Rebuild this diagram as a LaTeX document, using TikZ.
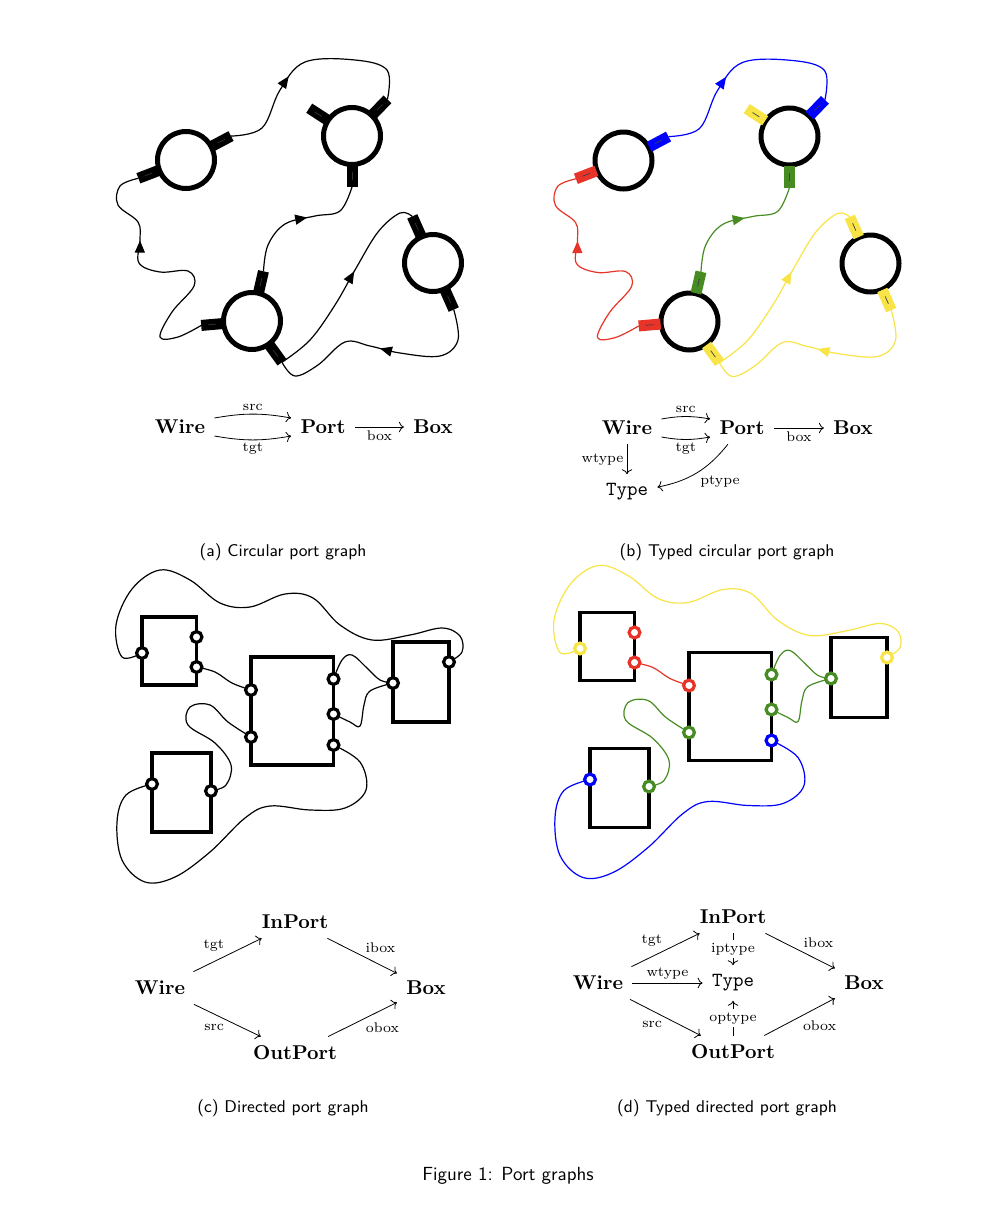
\documentclass[tikz,border=0pt]{standalone}
\usetikzlibrary{arrows.meta,decorations.markings}
\definecolor{cred}{RGB}{232,52,40}
\definecolor{cgreen}{RGB}{70,140,35}
\definecolor{cyellow}{RGB}{248,228,70}
\definecolor{cblue}{RGB}{0,0,255}

% port on a circle: #1 centre, #2 angle, #3 name of tip, #4 fill style
\newcommand\cgport[4]{%
  \begin{scope}[shift={(#1)},rotate=#2]
    \fill[#4] (29,-5.5) rectangle (51,5.5);
    \draw[pmark] (36,0) -- (44,0);
    \coordinate (#3) at (51,0);
  \end{scope}}

\newcommand\circgraph[1]{%
  \node[cnode] (#1c1) at (186,160) {};
  \node[cnode] (#1c2) at (352,136) {};
  \node[cnode] (#1c3) at (252,321) {};
  \node[cnode] (#1c4) at (433,263) {};
  \cgport{186,160}{28}{#1p1}{pblue}
  \cgport{186,160}{201}{#1p2}{pred}
  \cgport{352,136}{147}{#1p3}{pyellow}
  \cgport{352,136}{46}{#1p4}{pblue}
  \cgport{352,136}{270}{#1p5}{pgreen}
  \cgport{252,321}{77}{#1p6}{pgreen}
  \cgport{252,321}{185}{#1p7}{pred}
  \cgport{252,321}{306}{#1p8}{pyellow}
  \cgport{433,263}{114}{#1p9}{pyellow}
  \cgport{433,263}{-66}{#1p10}{pyellow}
  \draw[wire,wblue,midarrow=0.4] plot[smooth,tension=0.6] coordinates {(#1p1) (262,128) (280,90) (305,62) (355,60) (387,70) (#1p4)};
  \draw[wire,wgreen,midarrow=0.56] plot[smooth,tension=0.6] coordinates {(#1p6) (268,245) (285,224) (315,216) (340,211) (#1p5)};
  \draw[wire,wred,midarrow=0.7] plot[smooth,tension=0.6] coordinates {(#1p7) (178,337) (160,337) (172,312) (194,286) (188,271) (160,272) (139,263) (140,240) (138,222) (118,205) (120,186) (#1p2)};
  \draw[wire,wyellow,midarrow=0.57] plot[smooth,tension=0.6] coordinates {(#1p8) (310,340) (335,305) (355,270) (378,232) (400,213) (#1p9)};
  \draw[wire,wyellow,midarrow=0.5] plot[smooth,tension=0.6] coordinates {(#1p10) (458,340) (440,356) (400,353) (370,346) (345,342) (318,365) (295,376) (#1p8)};
}

\newcommand\dirgraph[1]{%
  \node[bnode,minimum width=27.25pt,minimum height=34pt] (#1b1) at (169.25,651) {};
  \node[bnode,minimum width=41.25pt,minimum height=54pt] (#1b2) at (292.25,711) {};
  \node[bnode,minimum width=28pt,minimum height=40pt] (#1b3) at (421,682) {};
  \node[bnode,minimum width=29.5pt,minimum height=39.5pt] (#1b4) at (181.5,792.5) {};
  \coordinate (#1q1) at (142,653);
  \coordinate (#1q2) at (196.5,637);
  \coordinate (#1q3) at (196.5,667);
  \coordinate (#1q4) at (251,690);
  \coordinate (#1q5) at (251,737);
  \coordinate (#1q6) at (333.5,679);
  \coordinate (#1q7) at (333.5,714);
  \coordinate (#1q8) at (333.5,745);
  \coordinate (#1q9) at (393,683);
  \coordinate (#1q10) at (449,662);
  \coordinate (#1q11) at (152,784);
  \coordinate (#1q12) at (211,791);
  \draw[wire,ty] plot[smooth,tension=0.6] coordinates {(#1q1) (122,657) (116,625) (132,589) (160,570) (190,580) (220,603) (250,607) (285,594) (313,598) (340,625) (372,640) (410,635) (442,628) (460,636) (462,652) (#1q10)};
  \draw[wire,tr] plot[smooth,tension=0.6] coordinates {(#1q3) (215,672) (232,683) (#1q4)};
  \draw[wire,tg] plot[smooth,tension=0.6] coordinates {(#1q6) (342,660) (352,655) (367,668) (380,680) (#1q9)};
  \draw[wire,tg] plot[smooth,tension=0.6] coordinates {(#1q7) (350,722) (360,726) (364,705) (370,691) (#1q9)};
  \draw[wire,tg] plot[smooth,tension=0.6] coordinates {(#1q5) (228,722) (210,705) (190,707) (188,725) (215,743) (231,765) (226,785) (#1q12)};
  \draw[wire,tb] plot[smooth,tension=0.6] coordinates {(#1q8) (360,762) (366,790) (345,808) (310,810) (270,806) (245,818) (210,852) (175,877) (145,882) (122,860) (117,822) (126,795) (#1q11)};
  \node[pnode,ty] (#1r1) at (#1q1) {};
  \node[pnode,tr] (#1r2) at (#1q2) {};
  \node[pnode,tr] (#1r3) at (#1q3) {};
  \node[pnode,tr] (#1r4) at (#1q4) {};
  \node[pnode,tg] (#1r5) at (#1q5) {};
  \node[pnode,tg] (#1r6) at (#1q6) {};
  \node[pnode,tg] (#1r7) at (#1q7) {};
  \node[pnode,tb] (#1r8) at (#1q8) {};
  \node[pnode,tg] (#1r9) at (#1q9) {};
  \node[pnode,ty] (#1r10) at (#1q10) {};
  \node[pnode,tb] (#1r11) at (#1q11) {};
  \node[pnode,tg] (#1r12) at (#1q12) {};
}

\begin{document}
\begin{tikzpicture}[x=0.5pt,y=-0.5pt,
  cnode/.style={circle,draw=black,line width=2.5pt,minimum size=28.5pt,inner sep=0pt},
  bnode/.style={rectangle,draw=black,line width=1.75pt,inner sep=0pt},
  pnode/.style={circle,line width=1.6pt,fill=white,minimum size=5.4pt,inner sep=0pt},
  wire/.style={line width=0.6pt},
  midarrow/.style={postaction={decorate},decoration={markings,mark=at position #1 with {\arrow{Triangle[length=6pt,width=5pt]}}}},
  obj/.style={font=\fontsize{10}{12}\selectfont\bfseries,inner sep=4.5pt},
  tobj/.style={font=\fontsize{10}{12}\selectfont\ttfamily,inner sep=4.5pt},
  lab/.style={font=\fontsize{7}{8}\selectfont,inner sep=1.5pt},
  arr/.style={-{Computer Modern Rightarrow},line width=0.4pt},
  capsub/.style={font=\fontsize{8.5}{10}\selectfont\sffamily},
  capmain/.style={font=\fontsize{9.5}{11}\selectfont\sffamily}]
\useasboundingbox (0,0) rectangle (990,1216);

% (a)
\begin{scope}[pblue/.style={fill=black},pred/.style={fill=black},pyellow/.style={fill=black},pgreen/.style={fill=black},
  pmark/.style={draw=black!80,line width=0.35pt},
  wblue/.style={draw=black},wred/.style={draw=black},wgreen/.style={draw=black},wyellow/.style={draw=black}]
  \circgraph{a}
\end{scope}
% (b)
\begin{scope}[shift={(437.5,0.5)},pblue/.style={fill=cblue},pred/.style={fill=cred},pyellow/.style={fill=cyellow},pgreen/.style={fill=cgreen},
  pmark/.style={draw=black!75,line width=0.35pt},
  wblue/.style={draw=cblue},wred/.style={draw=cred},wgreen/.style={draw=cgreen},wyellow/.style={draw=cyellow}]
  \circgraph{b}
\end{scope}
% (c)
\begin{scope}[ty/.style={draw=black},tr/.style={draw=black},tg/.style={draw=black},tb/.style={draw=black}]
  \dirgraph{c}
\end{scope}
% (d)
\begin{scope}[shift={(438,-4.5)},ty/.style={draw=cyellow},tr/.style={draw=cred},tg/.style={draw=cgreen},tb/.style={draw=cblue}]
  \dirgraph{d}
\end{scope}

% schema (a)
\node[obj] (aw) at (180,427) {Wire};
\node[obj] (ap) at (323,427) {Port};
\node[obj] (ab) at (433,427) {Box};
\draw[arr] ([yshift=4.5pt]aw.east) to[bend left=10] node[lab,above] (lasrc) {src} ([yshift=4.5pt]ap.west);
\draw[arr] ([yshift=-4.5pt]aw.east) to[bend right=10] node[lab,below] (latgt) {tgt} ([yshift=-4.5pt]ap.west);
\draw[arr] (ap) -- node[lab,below] (labox) {box} (ab);

% schema (b)
\node[obj] (bw) at (627,428) {Wire};
\node[obj] (bp) at (742,428) {Port};
\node[obj] (bb) at (853,428) {Box};
\node[tobj] (bt) at (627,492) {Type};
\draw[arr] ([yshift=4.5pt]bw.east) to[bend left=10] node[lab,above] (lbsrc) {src} ([yshift=4.5pt]bp.west);
\draw[arr] ([yshift=-4.5pt]bw.east) to[bend right=10] node[lab,below] (lbtgt) {tgt} ([yshift=-4.5pt]bp.west);
\draw[arr] (bp) -- node[lab,below] (lbbox) {box} (bb);
\draw[arr] (bw) -- node[lab,left] (lbwt) {wtype} (bt);
\draw[arr] (bp) to[bend left=20] node[lab,below right] (lbpt) {ptype} (bt);

% schema (c)
\node[obj] (cw) at (160,988) {Wire};
\node[obj] (ci) at (295,922) {InPort};
\node[obj] (cb) at (426,988) {Box};
\node[obj] (cop) at (295,1053) {OutPort};
\draw[arr] (cw) -- node[lab,above left] (lctgt) {tgt} (ci);
\draw[arr] (ci) -- node[lab,above right] (lcib) {ibox} (cb);
\draw[arr] (cw) -- node[lab,below left] (lcsrc) {src} (cop);
\draw[arr] (cop) -- node[lab,below right] (lcob) {obox} (cb);

% schema (d)
\node[obj] (dw) at (598,983) {Wire};
\node[obj] (di) at (733,917) {InPort};
\node[tobj] (dt) at (733,983) {Type};
\node[obj] (db) at (864,983) {Box};
\node[obj] (dop) at (733,1052) {OutPort};
\draw[arr] (dw) -- node[lab,above left] (ldtgt) {tgt} (di);
\draw[arr] (dw) -- node[lab,above] (ldwt) {wtype} (dt);
\draw[arr] (dw) -- node[lab,below left] (ldsrc) {src} (dop);
\draw[arr] (di) -- node[lab,above right] (ldib) {ibox} (db);
\draw[arr] (dop) -- node[lab,below right] (ldob) {obox} (db);
\draw[arr] (di) -- node[lab,fill=white] (ldipt) {iptype} (dt);
\draw[arr] (dop) -- node[lab,fill=white] (ldopt) {optype} (dt);

% captions
\node[capsub] (capa) at (283,552) {(a) Circular port graph};
\node[capsub] (capb) at (727,552) {(b) Typed circular port graph};
\node[capsub] (capc) at (283,1108) {(c) Directed port graph};
\node[capsub] (capd) at (727,1108) {(d) Typed directed port graph};
\node[capmain] (capf) at (508,1176) {Figure 1: Port graphs};
\end{tikzpicture}
\end{document}
